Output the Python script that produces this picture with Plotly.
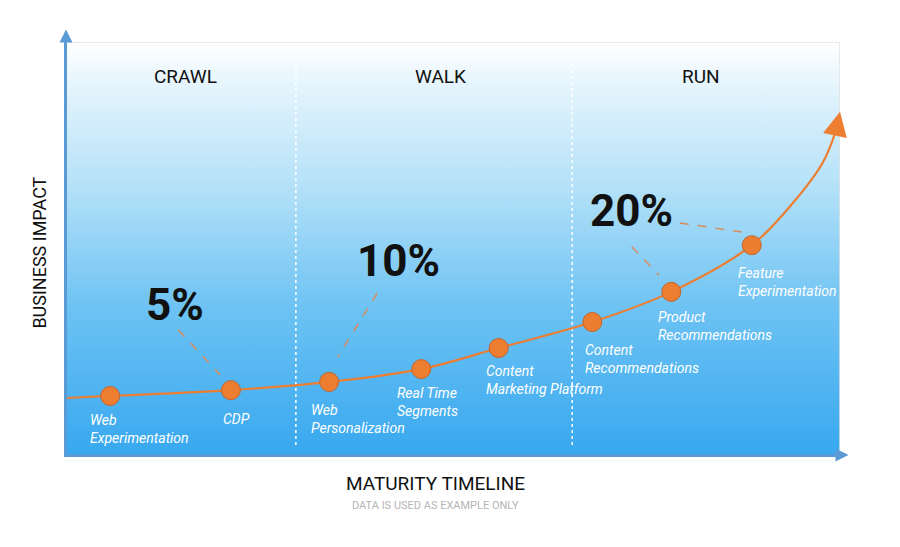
import plotly.graph_objects as go

# ---- data ----
stages = ["CRAWL", "WALK", "RUN"]
stage_x = [15.5, 48.4, 82.0]
stage_dividers = [29.7, 65.4]

milestones = ["Web<br>Experimentation", "CDP", "Web<br>Personalization", "Real Time<br>Segments",
              "Content<br>Marketing Platform", "Content<br>Recommendations",
              "Product<br>Recommendations", "Feature<br>Experimentation"]
milestone_x = [5.7, 21.3, 34.0, 45.9, 55.9, 68.0, 78.2, 88.6]
milestone_y = [14.3, 15.7, 17.7, 20.8, 25.9, 32.2, 39.5, 50.8]

curve_x = [0, 5.7, 21.3, 34.0, 45.9, 55.9, 68.0, 78.2, 88.6, 93.9, 97.8, 99.5]
curve_y = [13.8, 14.3, 15.7, 17.7, 20.8, 25.9, 32.2, 39.5, 50.8, 61.0, 70.9, 78.7]

pct_labels = ["5%", "10%", "20%"]
pct_x = [14.1, 42.9, 73.1]
pct_y = [36.3, 47.0, 59.1]

# connectors: (x0, y0, x1, y1)
connectors = [(14.5, 30.3, 19.9, 19.4), (40.2, 39.2, 35.1, 23.7),
              (79.3, 56.2, 87.3, 54.0), (73.1, 50.4, 76.6, 43.6)]

label_dx = [-22, -10, -20, -26, -15, -9, -15, -16]
label_dy = [14, 19, 18, 14, 13, 18, 15, 18]

ORANGE = "#ED7D31"
AXIS_BLUE = "#5B9BD5"

fig = go.Figure()

# gradient background
fig.add_trace(go.Scatter(
    x=[0, 100, 100, 0, 0], y=[0, 0, 100, 100, 0], mode="lines",
    line=dict(width=0), fill="toself",
    fillgradient=dict(type="vertical", start=0, stop=100,
                      colorscale=[[0, "#38a8ef"], [0.35, "#6cc2f3"], [0.65, "#b4e1f8"],
                                  [0.9, "#e6f5fd"], [1, "#ffffff"]]),
    hoverinfo="skip", showlegend=False))

# dividers
for dx in stage_dividers:
    fig.add_trace(go.Scatter(x=[dx, dx], y=[2.4, 95.2], mode="lines",
                             line=dict(color="white", width=1.5, dash="dot"),
                             hoverinfo="skip", showlegend=False))

# curve
fig.add_trace(go.Scatter(x=curve_x, y=curve_y, mode="lines",
                         line=dict(color=ORANGE, width=2.2, shape="spline", smoothing=1.0),
                         hoverinfo="skip", showlegend=False))

# connectors
for (x0, y0, x1, y1) in connectors:
    fig.add_shape(type="line", x0=x0, y0=y0, x1=x1, y1=y1,
                  line=dict(color="#d98b5c", width=1.5, dash="dash"))

# milestones
fig.add_trace(go.Scatter(x=milestone_x, y=milestone_y, mode="markers",
                         marker=dict(size=19, color=ORANGE, line=dict(color="#c4642a", width=1)),
                         hoverinfo="skip", showlegend=False))

annotations = []
# curve arrow head
annotations.append(dict(x=100, y=83.1, ax=curve_x[-1], ay=curve_y[-1], xref="x", yref="y",
                        axref="x", ayref="y", showarrow=True, arrowhead=2, arrowsize=2.2,
                        arrowwidth=2.2, arrowcolor=ORANGE, text=""))
# axis arrows
annotations.append(dict(x=0, y=103, ax=0, ay=0, xref="x", yref="y", axref="x", ayref="y",
                        showarrow=True, arrowhead=2, arrowsize=1.3, arrowwidth=2,
                        arrowcolor=AXIS_BLUE, text=""))
annotations.append(dict(x=101.1, y=0, ax=0, ay=0, xref="x", yref="y", axref="x", ayref="y",
                        showarrow=True, arrowhead=2, arrowsize=1.3, arrowwidth=2,
                        arrowcolor=AXIS_BLUE, text=""))

for name, x, y, dx, dy in zip(milestones, milestone_x, milestone_y, label_dx, label_dy):
    annotations.append(dict(x=x, y=y, xref="x", yref="y", text="<i>" + name + "</i>",
                            showarrow=False, xanchor="left", yanchor="top", align="left",
                            xshift=dx, yshift=-dy,
                            font=dict(family="Roboto", size=14, color="white")))

for t, x, y in zip(pct_labels, pct_x, pct_y):
    annotations.append(dict(x=x, y=y, xref="x", yref="y", text="<b>" + t + "</b>",
                            showarrow=False,
                            font=dict(family="Roboto", size=44, color="#111111")))

for t, x in zip(stages, stage_x):
    annotations.append(dict(x=x, y=91.6, xref="x", yref="y", text=t, showarrow=False,
                            font=dict(family="Roboto", size=19, color="#111111")))

annotations.append(dict(x=-0.0336, y=0.49, xref="paper", yref="paper", text="BUSINESS IMPACT",
                        textangle=-90, xanchor="center", yanchor="middle",
                        showarrow=False, font=dict(family="Roboto", size=18, color="#111111")))
annotations.append(dict(x=0.477, y=-0.070, xref="paper", yref="paper", text="MATURITY TIMELINE",
                        xanchor="center", yanchor="middle",
                        showarrow=False, font=dict(family="Roboto", size=19, color="#111111")))
annotations.append(dict(x=0.477, y=-0.123, xref="paper", yref="paper",
                        text="DATA IS USED AS EXAMPLE ONLY", xanchor="center", yanchor="middle",
                        showarrow=False,
                        font=dict(family="Roboto", size=11, color="#b5b5b5")))

# top and right thin borders
fig.add_shape(type="line", x0=0, x1=100, y0=100, y1=100, line=dict(color="#e2e2e2", width=1.5))
fig.add_shape(type="line", x0=100, x1=100, y0=0, y1=100, line=dict(color="#e2e2e2", width=1.5))

fig.update_layout(
    width=900, height=547,
    margin=dict(l=66, r=60, t=42, b=92),
    paper_bgcolor="white", plot_bgcolor="white",
    xaxis=dict(range=[0, 100], visible=True, showgrid=False, zeroline=False, showticklabels=False,
               ticks="", showline=True, linecolor=AXIS_BLUE, linewidth=2),
    yaxis=dict(range=[0, 100], visible=True, showgrid=False, zeroline=False, showticklabels=False,
               ticks="", showline=True, linecolor=AXIS_BLUE, linewidth=2),
    annotations=annotations,
    showlegend=False,
)

fig.write_html("out.html")
